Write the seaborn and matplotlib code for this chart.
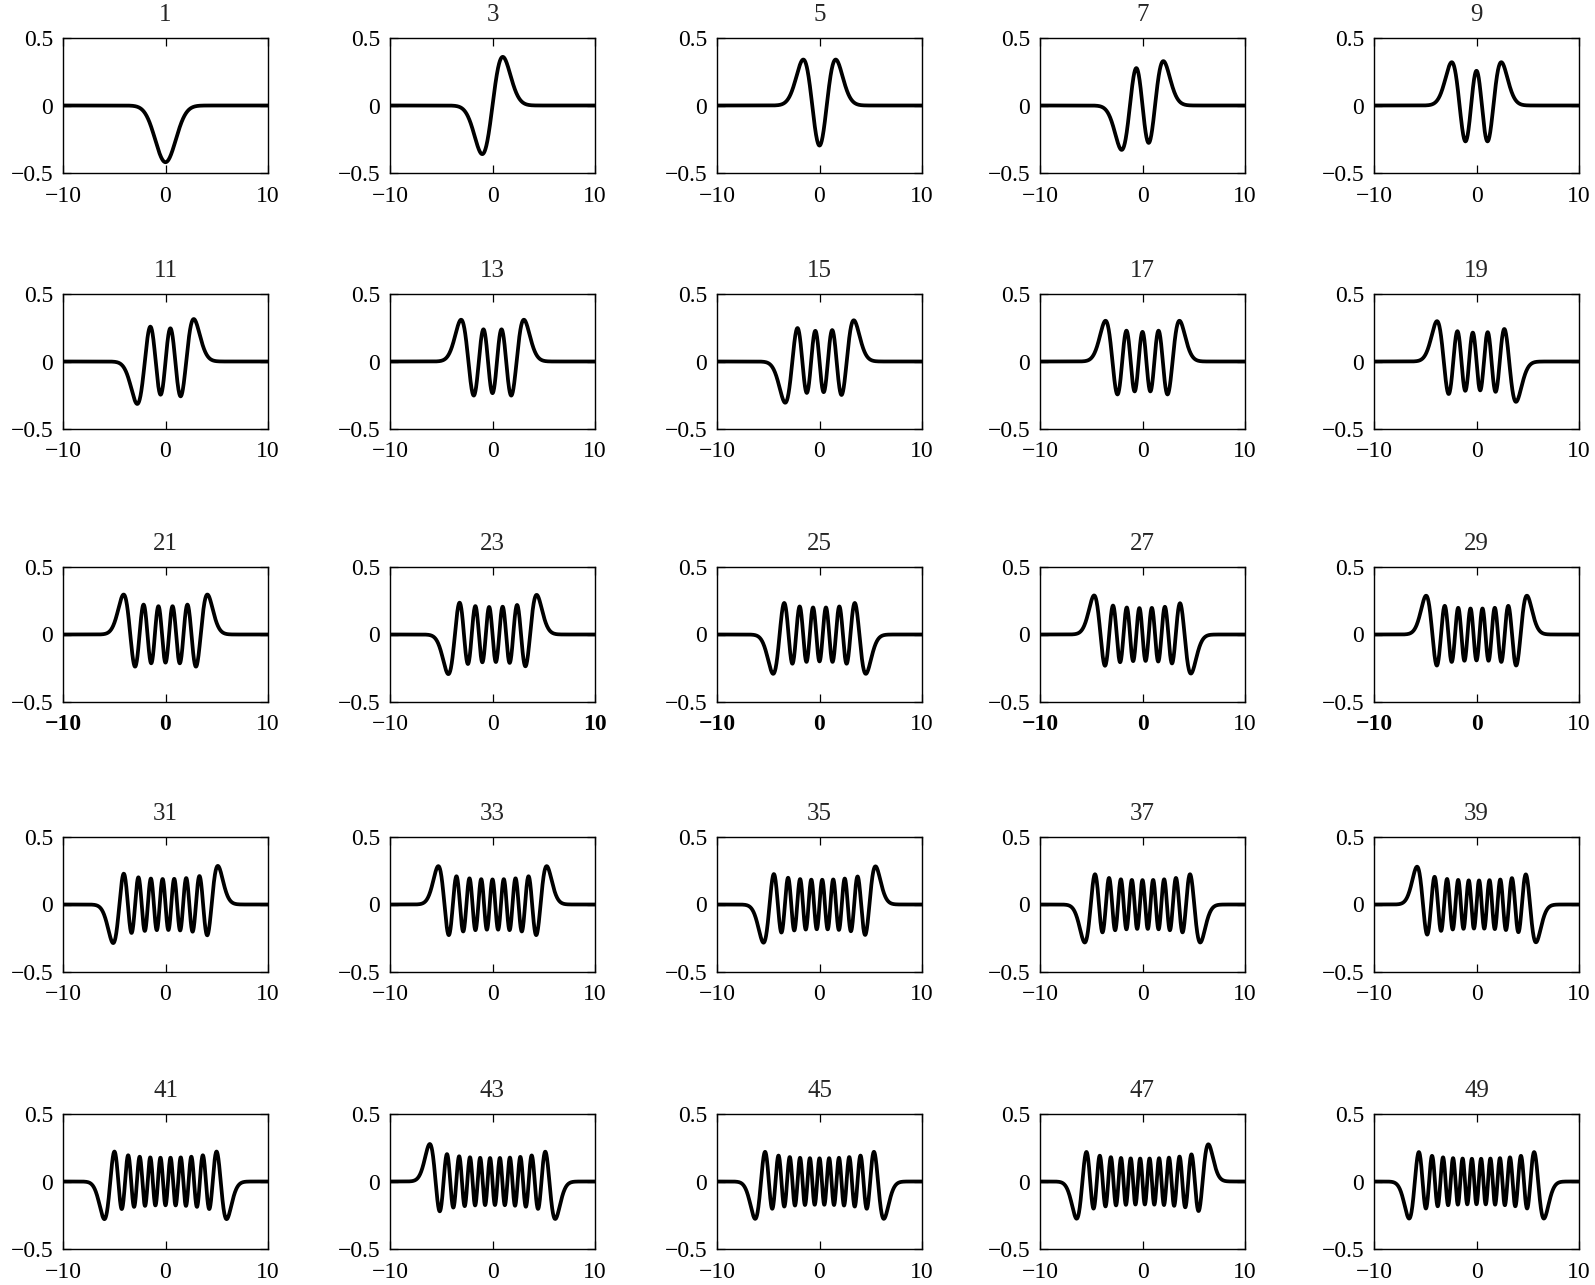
import numpy as np
import pandas as pd
import matplotlib
matplotlib.use("Agg")
import matplotlib.pyplot as plt
import seaborn as sns

# Panel titles, Hermite mode order shown in each panel, and the sign of each curve
titles = [1, 3, 5, 7, 9, 11, 13, 15, 17, 19, 21, 23, 25, 27, 29,
          31, 33, 35, 37, 39, 41, 43, 45, 47, 49]
modes = [0, 1, 2, 3, 4, 5, 6, 7, 8, 9, 10, 11, 12, 13, 14,
         15, 16, 17, 18, 19, 20, 21, 22, 23, 24]
signs = [-1, 1, 1, 1, 1, 1, 1, 1, 1, -1, 1, 1, -1, -1, 1,
         1, 1, 1, -1, -1, -1, -1, -1, 1, -1]
# amplitude scale: panel "1" bottoms out near -0.42
scale = 0.42 / np.pi ** -0.25

# x tick labels in row 3 look over-printed (heavier) in the original
bold_row3 = [[True, True, False], [False, False, True], [True, True, False],
             [True, True, False], [True, True, False]]

x = np.linspace(-10, 10, 1001)


def hermite_function(n, x):
    # stable recurrence for normalized Hermite functions
    p0 = np.pi ** -0.25 * np.exp(-x ** 2 / 2)
    if n == 0:
        return p0
    p1 = np.sqrt(2.0) * x * p0
    for k in range(1, n):
        p0, p1 = p1, np.sqrt(2.0 / (k + 1)) * x * p1 - np.sqrt(k / (k + 1)) * p0
    return p1


sns.set_style("ticks")
plt.rcParams["font.family"] = ["Liberation Serif", "DejaVu Serif"]
plt.rcParams.update({
    "xtick.direction": "in", "ytick.direction": "in",
    "xtick.top": True, "ytick.right": True,
    "xtick.major.size": 6, "ytick.major.size": 6,
    "xtick.major.width": 0.9, "ytick.major.width": 0.9,
    "axes.linewidth": 1.0, "axes.edgecolor": "black",
    "xtick.color": "black", "ytick.color": "black",
})

W, H = 1595, 1285
fig = plt.figure(figsize=(W / 100, H / 100), dpi=100)

col_left = [63, 390, 717, 1040, 1374]
row_top = [38, 294, 567, 837, 1114]
ax_w, ax_h = 205, 135
tick_fs = 17
title_fs = 18

for i, (t, m, s) in enumerate(zip(titles, modes, signs)):
    r, c = divmod(i, 5)
    ax = fig.add_axes([col_left[c] / W, 1 - (row_top[r] + ax_h) / H, ax_w / W, ax_h / H])
    y = s * scale * hermite_function(m, x)
    df = pd.DataFrame({"x": x, "y": y})
    sns.lineplot(data=df, x="x", y="y", ax=ax, color="black", linewidth=2.7)
    ax.set_xlim(-10, 10)
    ax.set_ylim(-0.5, 0.5)
    ax.set_xticks([-10, 0, 10])
    ax.set_yticks([-0.5, 0, 0.5])
    ax.set_xticklabels(["\u221210", "0", "10"])
    ax.set_yticklabels(["\u22120.5", "0", "0.5"])
    ax.tick_params(axis="x", pad=9, labelsize=tick_fs)
    ax.tick_params(axis="y", pad=7, labelsize=tick_fs)
    if r == 2:
        for lab, b in zip(ax.get_xticklabels(), bold_row3[c]):
            if b:
                lab.set_fontweight("bold")
    ax.set_xlabel("")
    ax.set_ylabel("")
    ax.set_title(str(t), fontsize=title_fs, pad=12)

fig.savefig("out.png", dpi=100)
